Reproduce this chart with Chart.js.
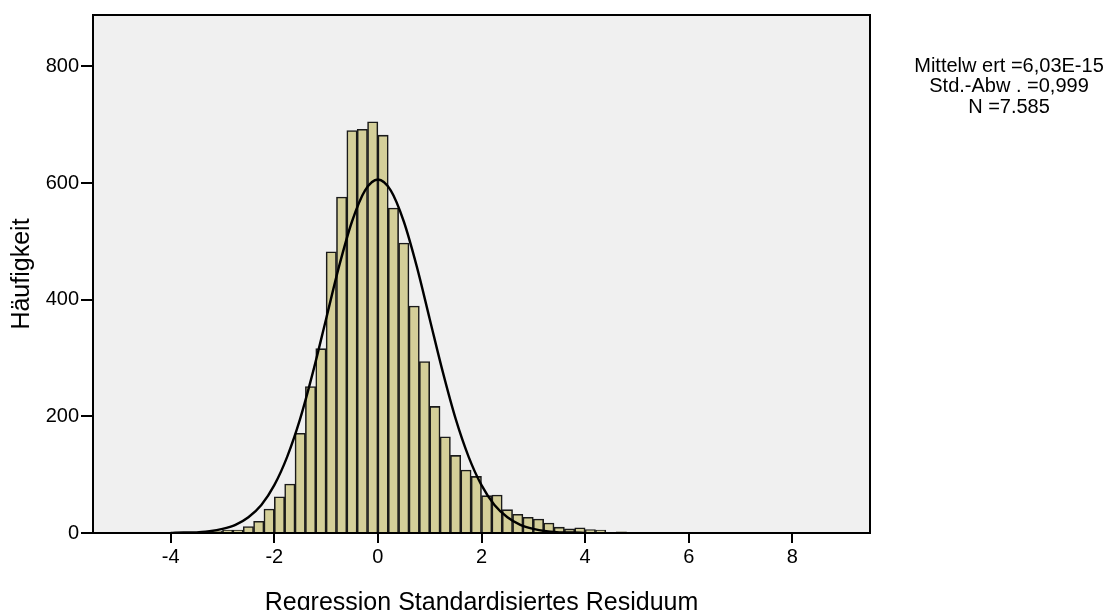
<!DOCTYPE html>
<html lang="de">
<head>
<meta charset="utf-8">
<title>Histogramm Residuen</title>
<script src="https://cdn.jsdelivr.net/npm/chart.js@4/dist/chart.umd.min.js"></script>
<style>
  html, body { margin: 0; padding: 0; background: #fff; }
  #wrap { width: 1107px; height: 610px; }
</style>
</head>
<body>
<div id="wrap"><canvas id="histChart" width="1107" height="610"></canvas></div>
<script>
// --- Data ---
const binCenters = [-3.5, -3.3, -3.1, -2.9, -2.7, -2.5, -2.3, -2.1, -1.9, -1.7,
  -1.5, -1.3, -1.1, -0.9, -0.7, -0.5, -0.3, -0.1, 0.1, 0.3,
  0.5, 0.7, 0.9, 1.1, 1.3, 1.5, 1.7, 1.9, 2.1, 2.3,
  2.5, 2.7, 2.9, 3.1, 3.3, 3.5, 3.7, 3.9, 4.1, 4.3,
  4.7, 6.7];
const binCounts = [1, 1, 3, 5, 5, 11, 20, 41, 62, 84,
  171, 251, 316, 482, 576, 690, 692, 705, 682, 557,
  497, 389, 294, 217, 165, 133, 108, 97, 64, 65,
  40, 32, 27, 24, 17, 10, 7, 9, 6, 5,
  2, 1];

// normal curve, read at steps of 0.25
const curveX = [-4, -3.75, -3.5, -3.25, -3, -2.75, -2.5, -2.25, -2, -1.75,
  -1.5, -1.25, -1, -0.75, -0.5, -0.25, 0, 0.25, 0.5, 0.75,
  1, 1.25, 1.5, 1.75, 2, 2.25, 2.5, 2.75, 3, 3.25,
  3.5, 3.75, 4];
const curveY = [0, 1, 1, 3, 7, 14, 27, 48, 82, 131,
  196, 277, 367, 457, 534, 587, 606, 587, 534, 457,
  367, 277, 196, 131, 82, 48, 27, 14, 7, 3,
  1, 1, 0];

const xTicks = [-4, -2, 0, 2, 4, 6, 8];
const yTicks = [0, 200, 400, 600, 800];

const statLines = ['Mittelw ert =6,03E-15', 'Std.-Abw . =0,999', 'N =7.585'];

const FONT = "'Liberation Sans', Arial, sans-serif";

// --- Plugins ---
const plotBackground = {
  id: 'plotBackground',
  beforeDraw(chart) {
    const { ctx, chartArea: a } = chart;
    ctx.save();
    ctx.fillStyle = '#f0f0f0';
    ctx.fillRect(a.left, a.top, a.right - a.left, a.bottom - a.top);
    ctx.restore();
  },
  afterDraw(chart) {
    const { ctx, chartArea: a } = chart;
    ctx.save();
    ctx.strokeStyle = '#000';
    ctx.lineWidth = 2;
    ctx.strokeRect(a.left, a.top, a.right - a.left, a.bottom - a.top);
    ctx.restore();
  }
};

const statsBox = {
  id: 'statsBox',
  afterDraw(chart) {
    const { ctx } = chart;
    ctx.save();
    ctx.fillStyle = '#000';
    ctx.font = '20px ' + FONT;
    ctx.textAlign = 'center';
    ctx.textBaseline = 'middle';
    statLines.forEach((line, i) => {
      ctx.fillText(line, 1009, 66 + i * 20.5);
    });
    ctx.restore();
  }
};

// --- Chart ---
const ctx = document.getElementById('histChart').getContext('2d');

new Chart(ctx, {
  type: 'bar',
  data: {
    datasets: [
      {
        type: 'line',
        label: 'Normalverteilung',
        data: curveX.map((x, i) => ({ x: x, y: curveY[i] })),
        borderColor: '#000',
        borderWidth: 2.4,
        pointRadius: 0,
        fill: false,
        cubicInterpolationMode: 'monotone',
        order: 0
      },
      {
        type: 'bar',
        label: 'Häufigkeit',
        data: binCenters.map((x, i) => ({ x: x, y: binCounts[i] })),
        backgroundColor: '#d4cf99',
        borderColor: '#1a1a1a',
        borderWidth: 1.6,
        barPercentage: 1,
        categoryPercentage: 1,
        order: 1
      }
    ]
  },
  options: {
    responsive: false,
    animation: false,
    events: [],
    layout: { padding: { top: 15, right: 237, left: 0, bottom: 0 } },
    plugins: {
      legend: { display: false },
      tooltip: { enabled: false }
    },
    scales: {
      x: {
        type: 'linear',
        position: 'bottom',
        min: -5.5,
        max: 9.5,
        offset: false,
        afterBuildTicks: axis => { axis.ticks = xTicks.map(v => ({ value: v })); },
        afterFit: axis => { axis.height = 77; },
        border: { display: true, color: '#000', width: 2 },
        grid: { offset: false, drawOnChartArea: false, drawTicks: true, tickLength: 10, color: '#000', lineWidth: 2 },
        ticks: { color: '#000', padding: 2, maxRotation: 0, font: { family: FONT, size: 20 } },
        title: {
          display: true,
          text: 'Regression Standardisiertes Residuum',
          color: '#000',
          padding: { top: 0, bottom: -6 },
          font: { family: FONT, size: 25, lineHeight: 1 }
        }
      },
      y: {
        min: 0,
        max: 888,
        afterBuildTicks: axis => { axis.ticks = yTicks.map(v => ({ value: v })); },
        afterFit: axis => { axis.width = 93; },
        border: { display: true, color: '#000', width: 2 },
        grid: { drawOnChartArea: false, drawTicks: true, tickLength: 12, color: '#000', lineWidth: 2 },
        ticks: { color: '#000', padding: 2, font: { family: FONT, size: 20 } },
        title: {
          display: true,
          text: 'Häufigkeit',
          color: '#000',
          padding: { top: 10, bottom: 0 },
          font: { family: FONT, size: 25, lineHeight: 1 }
        }
      }
    }
  },
  plugins: [plotBackground, statsBox]
});
</script>
</body>
</html>
